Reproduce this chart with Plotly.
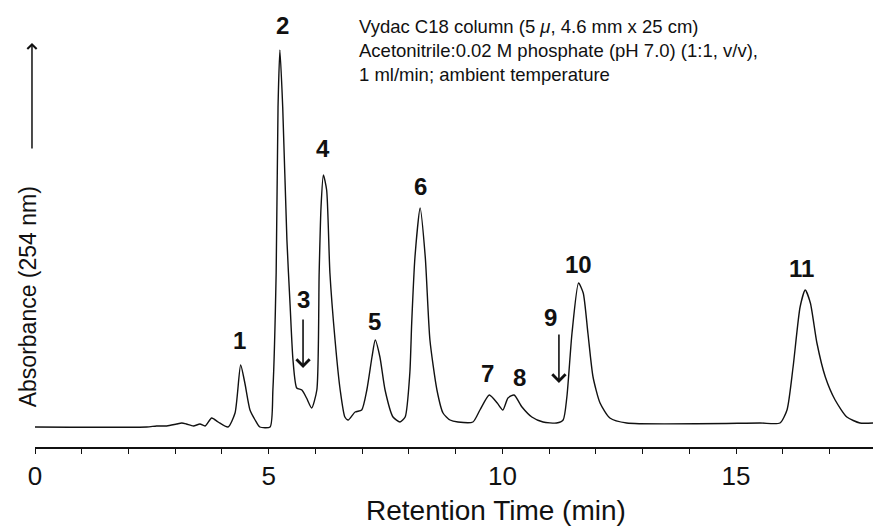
import plotly.graph_objects as go

# Chromatogram trace: retention time (min) and absorbance (arbitrary units)
time_min = [0.00, 2.39, 2.60, 2.82, 3.03, 3.14, 3.24, 3.39, 3.53, 3.64, 3.78, 3.92, 4.13,
            4.28, 4.40, 4.49, 4.60, 4.71, 4.81, 5.03, 5.09, 5.16, 5.20, 5.24, 5.30, 5.39,
            5.46, 5.52, 5.60, 5.71, 5.81, 5.92, 6.03, 6.08, 6.12, 6.17, 6.24, 6.31, 6.42,
            6.53, 6.63, 6.70, 6.85, 6.99, 7.10, 7.21, 7.28, 7.38, 7.49, 7.66, 7.81, 7.92,
            8.02, 8.06, 8.13, 8.24, 8.35, 8.45, 8.60, 8.73, 8.88, 9.05, 9.37, 9.52, 9.72,
            9.89, 10.01, 10.12, 10.25, 10.42, 10.63, 10.87, 11.16, 11.30, 11.38, 11.49,
            11.63, 11.73, 11.83, 11.94, 12.09, 12.30, 12.66, 15.51, 15.94, 16.09, 16.22,
            16.37, 16.48, 16.59, 16.73, 16.91, 17.12, 17.37, 17.65, 17.93]
absorbance = [-1, -1, 0, 0, 2, 3, 2, 0, 2, 0, 8, 4, -1,
              13, 61, 43, 16, 6, -1, -1, 36, 153, 319, 376, 319, 186,
              119, 66, 38, 36, 28, 18, 36, 153, 219, 251, 236, 153, 86,
              36, 9, 6, 14, 16, 36, 69, 86, 69, 36, 9, 4, 9,
              53, 103, 169, 218, 169, 86, 36, 13, 6, 4, 4, 16, 31,
              23, 16, 28, 31, 19, 9, 4, 3, 6, 29, 93,
              143, 133, 93, 49, 23, 8, 3, 3, 3, 16, 59,
              119, 136, 123, 83, 49, 26, 9, 3, 3]

# Peak labels
peak_labels = ["1", "2", "3", "4", "5", "6", "7", "8", "9", "10", "11"]
label_time = [4.365, 5.286, 5.735, 6.163, 7.254, 8.239, 9.673, 10.357, 11.02, 11.62, 16.41]
label_abs = [86, 401, 127, 278, 105, 240, 53, 49, 109, 162, 158]

# Arrows pointing at minor peaks 3 and 9 (tip positions)
arrow_time = [5.735, 11.21]
arrow_abs = [58, 43]

# Axis ticks
tick_vals = [0, 5, 10, 15]
tick_text = ["0", "5", "10", "15"]

# Conditions text
conditions = ["Vydac C18 column (5 <i>\u03bc</i>, 4.6 mm x 25 cm)",
              "Acetonitrile:0.02 M phosphate (pH 7.0) (1:1, v/v),",
              "1 ml/min; ambient temperature"]

FONT = "Liberation Sans, Arial, Helvetica, sans-serif"

fig = go.Figure()
fig.add_trace(go.Scatter(
    x=time_min, y=absorbance, mode="lines",
    line=dict(color="#111111", width=1.4, shape="spline", smoothing=0.6),
    hoverinfo="skip", showlegend=False))

annotations = []
for lab, t, a in zip(peak_labels, label_time, label_abs):
    annotations.append(dict(x=t, y=a, xref="x", yref="y", text="<b>%s</b>" % lab,
                            showarrow=False, font=dict(family=FONT, size=24, color="#111111"),
                            xanchor="center", yanchor="middle"))
for t, a in zip(arrow_time, arrow_abs):
    annotations.append(dict(x=t, y=a, xref="x", yref="y", text="", showarrow=True,
                            ax=0, ay=-50, axref="pixel", ayref="pixel",
                            arrowhead=4, arrowsize=1.6, arrowwidth=1.6, arrowcolor="#111111"))

# conditions block
annotations.append(dict(x=(357 - 35) / 838, y=(447 - 14) / 447, xref="paper", yref="paper",
                        text="<br>".join(conditions), align="left",
                        showarrow=False, xanchor="left", yanchor="top",
                        font=dict(family=FONT, size=18.5, color="#111111")))

# y label with arrow
annotations.append(dict(x=-0.009, y=0.336, xref="paper", yref="paper",
                        text="Absorbance (254 nm)", textangle=-90, showarrow=False,
                        xanchor="center", yanchor="middle",
                        font=dict(family=FONT, size=23, color="#111111")))
annotations.append(dict(x=-0.0036, y=0.904, xref="paper", yref="paper", text="",
                        showarrow=True, ax=0, ay=107, arrowhead=4, arrowsize=1.2,
                        arrowwidth=1.5, arrowcolor="#111111"))
# x title
annotations.append(dict(x=(496 - 35) / 838, y=-0.143, xref="paper", yref="paper",
                        text="Retention Time (min)", showarrow=False,
                        xanchor="center", yanchor="middle",
                        font=dict(family=FONT, size=28, color="#111111")))

fig.update_layout(
    width=873, height=530,
    margin=dict(l=35, r=0, t=0, b=83, pad=0),
    paper_bgcolor="white", plot_bgcolor="white",
    font=dict(family=FONT, color="#111111"),
    annotations=annotations,
    xaxis=dict(range=[0, 17.93], showgrid=False, zeroline=False,
               showline=True, linecolor="#111111", linewidth=1.5,
               ticks="outside", tickvals=tick_vals, ticktext=tick_text,
               ticklen=5, tickwidth=1.2, tickcolor="#111111",
               ticklabelstandoff=0,
               tickfont=dict(family=FONT, size=26, color="#111111"),
               minor=dict(dtick=1, ticks="outside", ticklen=5, tickwidth=1.2,
                          tickcolor="#111111", showgrid=False)),
    yaxis=dict(range=[-21, 426], visible=False, fixedrange=True),
)

fig.write_html("out.html", config={"displayModeBar": False})
